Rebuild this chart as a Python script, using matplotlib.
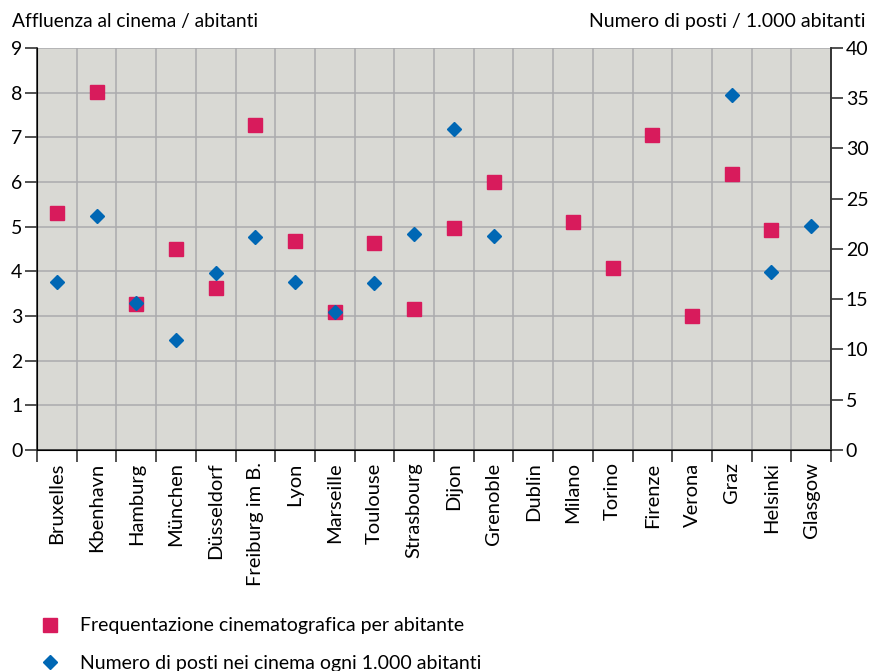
import numpy as np
import matplotlib
matplotlib.use("Agg")
import matplotlib.pyplot as plt
from matplotlib.lines import Line2D

plt.rcParams['font.family'] = ['Lato', 'DejaVu Sans']

# data
cities = ["Bruxelles", "Kbenhavn", "Hamburg", "München", "Düsseldorf", "Freiburg im B.",
          "Lyon", "Marseille", "Toulouse", "Strasbourg", "Dijon", "Grenoble", "Dublin",
          "Milano", "Torino", "Firenze", "Verona", "Graz", "Helsinki", "Glasgow"]
affluenza = [5.31, 8.02, 3.26, 4.50, 3.62, 7.28, 4.68, 3.09, 4.64, 3.15, 4.98, 6.00,
             np.nan, 5.11, 4.08, 7.05, 3.00, 6.17, 4.93, np.nan]
posti = [16.7, 23.3, 14.6, 10.9, 17.6, 21.2, 16.7, 13.7, 16.6, 21.45, 31.9, 21.3,
         np.nan, np.nan, np.nan, np.nan, np.nan, 35.3, 17.7, 22.3]

red = '#d81b5c'
blue = '#0067b4'
grid_col = '#ababad'
dark = '#333333'

fig = plt.figure(figsize=(8.69, 6.71), dpi=100)
ax = fig.add_axes([0.0426, 0.3294, 0.9137, 0.5991])
ax.set_facecolor('#d9d9d4')

x = np.arange(len(cities)) + 0.5
ax.plot(x, affluenza, linestyle='none', marker='s', markersize=10.5, color=red, zorder=3)

ax.set_xlim(0, len(cities))
ax.set_ylim(0, 9)
ax.set_xticks(np.arange(len(cities) + 1))
ax.set_xticklabels([])
ax.set_xticks(x, minor=True)
ax.set_xticklabels(cities, minor=True, rotation=90, fontsize=14.5, va='top')
ax.tick_params(axis='x', which='minor', length=0, pad=9)
ax.tick_params(axis='x', which='major', length=8.6, width=1.2, color=dark, direction='out')
ax.set_yticks(range(10))
ax.tick_params(axis='y', length=8.6, width=1.2, color=dark, labelsize=14, pad=2)
ax.grid(True, which='major', color=grid_col, linewidth=1.1)
ax.set_axisbelow(True)

ax.spines['top'].set_visible(False)
for s in ['left', 'bottom', 'right']:
    ax.spines[s].set_color(dark)
    ax.spines[s].set_linewidth(1.2)

ax2 = ax.twinx()
ax2.plot(x, posti, linestyle='none', marker='D', markersize=7.3, color=blue, zorder=4)
ax2.set_ylim(0, 40)
ax2.set_yticks(range(0, 45, 5))
ax2.tick_params(axis='y', length=8.6, width=1.2, color=dark, labelsize=14, pad=2)
ax2.spines['top'].set_visible(False)
ax2.spines['right'].set_color(dark)
ax2.spines['right'].set_linewidth(1.2)

fig.text(0.014, 0.968, "Affluenza al cinema / abitanti", fontsize=13.8, ha='left', va='center')
fig.text(0.996, 0.968, "Numero di posti / 1.000 abitanti", fontsize=14, ha='right', va='center')

handles = [Line2D([], [], linestyle='none', marker='s', markersize=10.5, color=red),
           Line2D([], [], linestyle='none', marker='D', markersize=7.3, color=blue)]
labels = ["Frequentazione cinematografica per abitante",
          "Numero di posti nei cinema ogni 1.000 abitanti"]
fig.legend(handles, labels, loc='upper left', bbox_to_anchor=(0.026, 0.106), frameon=False,
           fontsize=14, labelspacing=1.05, handlelength=1.0, handletextpad=1.04)

fig.savefig('out.png', dpi=100)
